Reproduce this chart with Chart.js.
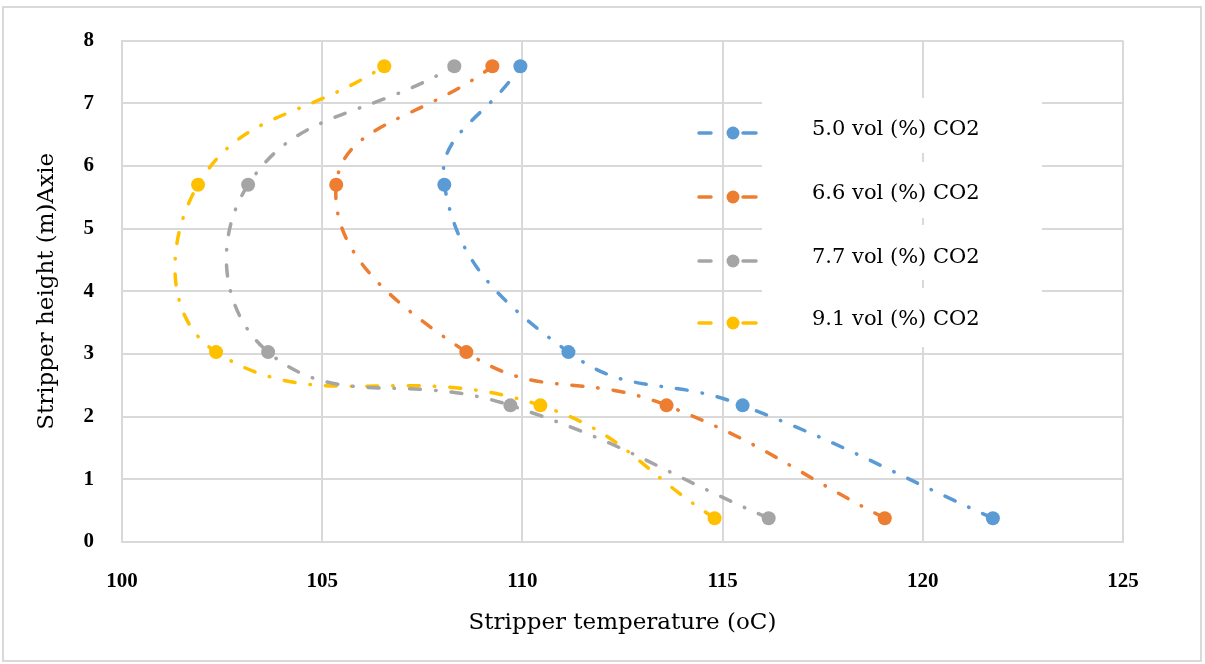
<!DOCTYPE html>
<html>
<head>
<meta charset="utf-8">
<script src="https://cdn.jsdelivr.net/npm/chart.js@4.4.0/dist/chart.umd.min.js"></script>
<style>
  html, body { margin: 0; padding: 0; background: #fff; }
  #wrap { width: 1205px; height: 664px; }
</style>
</head>
<body>
<div id="wrap"><canvas id="co2Chart" width="1205" height="664"></canvas></div>
<script>
// Stripper height (m) for each measured point, bottom to top
const heights = [0.38, 2.18, 3.03, 5.7, 7.59];

// Stripper temperature (oC) per CO2 concentration
const temp50 = [121.75, 115.5, 111.15, 108.05, 109.95];
const temp66 = [119.05, 113.6, 108.6, 105.35, 109.25];
const temp77 = [116.15, 109.7, 103.65, 103.15, 108.3];
const temp91 = [114.8, 110.45, 102.35, 101.9, 106.55];

const seriesLabels = ['5.0 vol (%) CO2', '6.6 vol (%) CO2', '7.7 vol (%) CO2', '9.1 vol (%) CO2'];
const seriesColors = ['#5B9BD5', '#ED7D31', '#A5A5A5', '#FFC000'];

// Axis ranges
const xRange = [100, 125];
const yRange = [0, 8];

const tickFont = "'Liberation Serif', 'Times New Roman', serif";
const textFont = "'DejaVu Serif', 'Liberation Serif', serif";
const dashDot = [11, 15, 0.5, 15];

function toPoints(temps) {
    return temps.map((t, i) => ({ x: t, y: heights[i] }));
}

function makeDataset(label, temps, color) {
    return {
        label: label,
        data: toPoints(temps),
        showLine: true,
        tension: 0.45,
        borderColor: color,
        backgroundColor: color,
        borderWidth: 3.5,
        borderDash: dashDot,
        borderCapStyle: 'round',
        pointRadius: 7,
        pointHoverRadius: 7,
        pointBorderWidth: 0
    };
}

// Legend drawn inside the plot area, like the original chart
const insideLegend = {
    id: 'insideLegend',
    beforeDraw(chart) {
        const ctx = chart.ctx;
        ctx.save();
        ctx.strokeStyle = '#d9d9d9';
        ctx.lineWidth = 2;
        ctx.strokeRect(3, 7, 1198, 654);
        ctx.restore();
    },
    beforeDatasetsDraw(chart) {
        const ctx = chart.ctx;
        const boxes = [[98, 153], [162, 218], [225, 280], [288, 347]];
        ctx.save();
        ctx.fillStyle = '#ffffff';
        boxes.forEach(b => ctx.fillRect(762, b[0], 280, b[1] - b[0]));
        ctx.restore();
    },
    afterDatasetsDraw(chart) {
        const ctx = chart.ctx;
        const rows = [133, 197, 261, 323];
        ctx.save();
        chart.data.datasets.forEach((ds, i) => {
            const y = rows[i];
            ctx.strokeStyle = ds.borderColor;
            ctx.lineWidth = 3.5;
            ctx.lineCap = 'round';
            ctx.beginPath();
            ctx.moveTo(699, y);
            ctx.lineTo(711, y);
            ctx.moveTo(743, y);
            ctx.lineTo(756, y);
            ctx.stroke();
            ctx.fillStyle = ds.backgroundColor;
            ctx.beginPath();
            ctx.arc(733, y, 6.5, 0, Math.PI * 2);
            ctx.fill();
            ctx.fillStyle = '#000';
            ctx.font = '21px ' + textFont;
            ctx.textBaseline = 'middle';
            ctx.textAlign = 'left';
            ctx.fillText(ds.label, 812, y - 3);
        });
        ctx.restore();
    }
};

const ctx = document.getElementById('co2Chart').getContext('2d');
const co2Chart = new Chart(ctx, {
    type: 'scatter',
    data: {
        datasets: [
            makeDataset(seriesLabels[0], temp50, seriesColors[0]),
            makeDataset(seriesLabels[1], temp66, seriesColors[1]),
            makeDataset(seriesLabels[2], temp77, seriesColors[2]),
            makeDataset(seriesLabels[3], temp91, seriesColors[3])
        ]
    },
    options: {
        responsive: false,
        animation: false,
        layout: { padding: { top: 38, right: 82, left: 0, bottom: 0 } },
        plugins: {
            legend: { display: false },
            tooltip: { enabled: false }
        },
        scales: {
            x: {
                type: 'linear',
                min: xRange[0],
                max: xRange[1],
                afterFit: s => { s.height = 122; },
                ticks: {
                    stepSize: 5,
                    padding: 27,
                    color: '#000',
                    font: { family: tickFont, size: 21, weight: 'bold' }
                },
                grid: { color: '#d9d9d9', lineWidth: 2, drawTicks: false },
                border: { color: '#d9d9d9', width: 2 },
                title: {
                    display: true,
                    text: 'Stripper temperature (oC)',
                    color: '#000',
                    padding: { top: 0, bottom: 27 },
                    font: { family: textFont, size: 23 }
                }
            },
            y: {
                type: 'linear',
                min: yRange[0],
                max: yRange[1],
                afterFit: s => { s.width = 122; },
                ticks: {
                    stepSize: 1,
                    padding: 28,
                    color: '#000',
                    font: { family: tickFont, size: 21, weight: 'bold' }
                },
                grid: { color: '#d9d9d9', lineWidth: 2, drawTicks: false },
                border: { color: '#d9d9d9', width: 2 },
                title: {
                    display: true,
                    text: 'Stripper height (m)Axie',
                    color: '#000',
                    padding: { top: 33, bottom: 0 },
                    font: { family: textFont, size: 23 }
                }
            }
        }
    },
    plugins: [insideLegend]
});
</script>
</body>
</html>
